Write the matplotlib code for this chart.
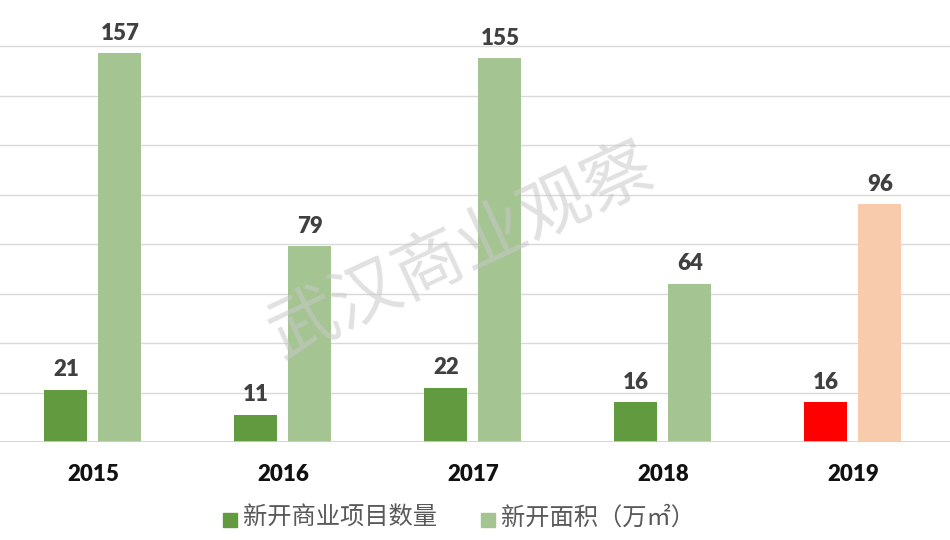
import matplotlib
matplotlib.use("Agg")
import matplotlib.pyplot as plt
import numpy as np

years = ["2015", "2016", "2017", "2018", "2019"]
projects = [21, 11, 22, 16, 16]          # 新开商业项目数量
area = [157, 79, 155, 64, 96]            # 新开面积（万㎡）
proj_colors = ["#619a3f", "#619a3f", "#619a3f", "#619a3f", "#ff0000"]
area_colors = ["#a4c491", "#a4c491", "#a4c491", "#a4c491", "#f8cbad"]

plt.rcParams['font.family'] = ['Lato', 'Noto Sans CJK SC', 'DejaVu Sans']

fig = plt.figure(figsize=(9.5, 5.4), dpi=100)
ax = fig.add_axes([0, 1 - 442 / 540, 1, 442 / 540])

x = np.arange(len(years))
w = 0.226
off = 0.142

b1 = ax.bar(x - off, projects, w, color=proj_colors, zorder=3)
b2 = ax.bar(x + off, area, w, color=area_colors, zorder=3)

for bars, vals in ((b1, projects), (b2, area)):
    for r, v in zip(bars, vals):
        ax.annotate(str(v), (r.get_x() + r.get_width() / 2, v),
                    xytext=(0, 7), textcoords="offset points",
                    ha="center", va="bottom", fontsize=16, fontweight="heavy",
                    color="#404040")

ax.set_xlim(-0.489, 4.511)
ax.set_ylim(0, 178.6)
ax.set_yticks(np.arange(0, 161, 20))
ax.yaxis.grid(True, color="#d9d9d9", linewidth=1, zorder=0)
ax.set_yticklabels([])
ax.tick_params(left=False, bottom=False)
for s in ax.spines.values():
    s.set_visible(False)
ax.axhline(0, color="#d0d0d0", linewidth=1.2, zorder=4)

ax.set_xticks(x)
ax.set_xticklabels(years, fontsize=16, fontweight="heavy", color="#111111")
ax.tick_params(axis="x", pad=12)

# watermark
fig.text(0.485, 0.535, "武汉商业观察", fontsize=50, color="#c8c8c8", alpha=0.55,
         rotation=25, ha="center", va="center",
         family=["Noto Sans CJK SC"], fontweight="light")

# legend
leg_items = [("#619a3f", "新开商业项目数量"), ("#a4c491", "新开面积（万㎡）")]
fig.patches.append(plt.Rectangle((223 / 950, 1 - 527 / 540), 14 / 950, 14 / 540,
                                 transform=fig.transFigure, color=leg_items[0][0]))
fig.text(243 / 950, 1 - 518 / 540, leg_items[0][1], fontsize=17.5, color="#595959",
         va="center", family=["Noto Sans CJK SC", "DejaVu Sans"])
fig.patches.append(plt.Rectangle((481 / 950, 1 - 527 / 540), 14 / 950, 14 / 540,
                                 transform=fig.transFigure, color=leg_items[1][0]))
fig.text(501 / 950, 1 - 518 / 540, leg_items[1][1], fontsize=17.5, color="#595959",
         va="center", family=["Noto Sans CJK SC", "DejaVu Sans"])

fig.savefig("out.png", dpi=100)
